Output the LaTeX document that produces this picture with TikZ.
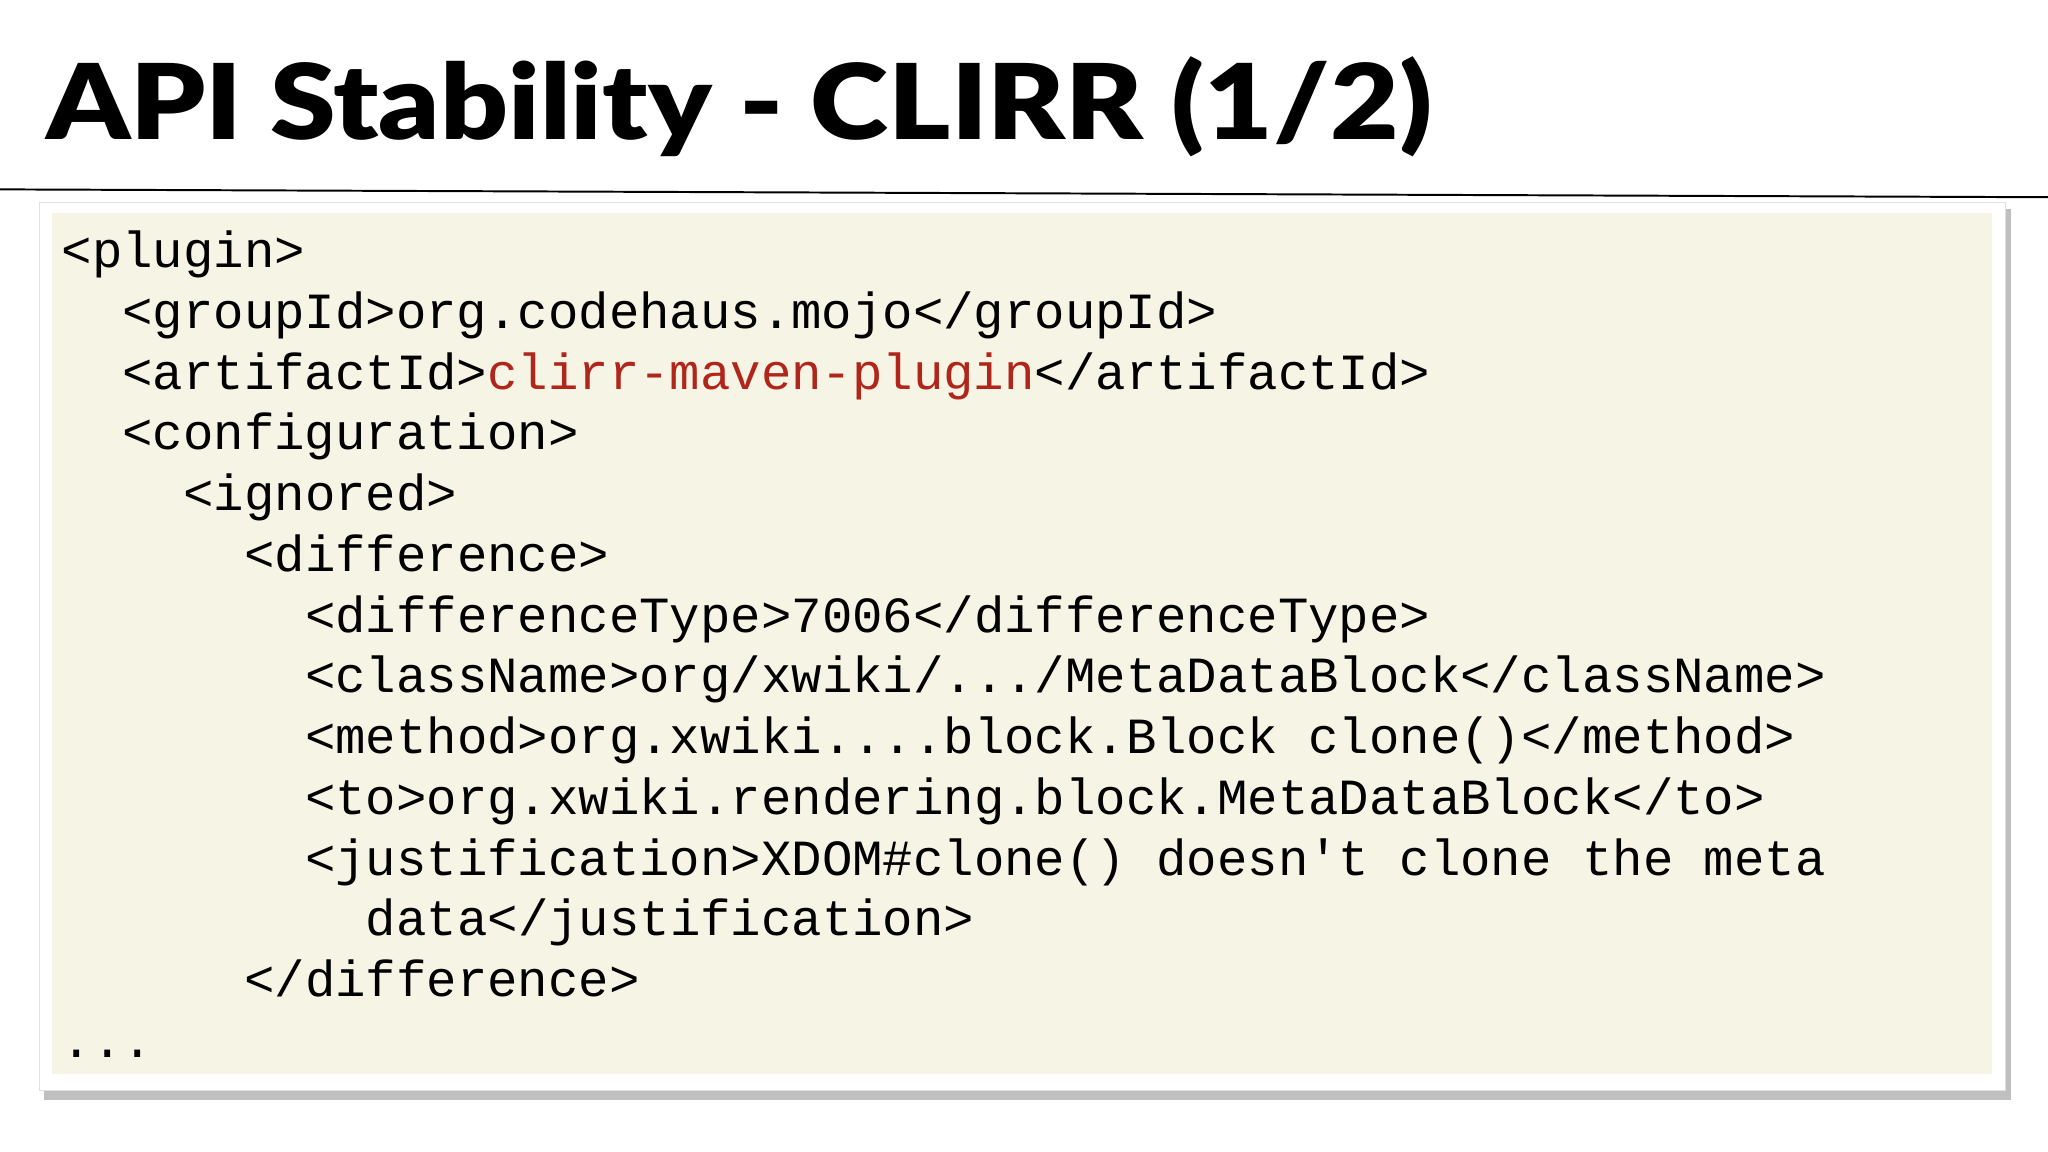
\documentclass[tikz,border=0pt]{standalone}
\usepackage{fontspec}
\setmainfont{Lato}
\newfontfamily\codefont{Liberation Mono}
\newfontfamily\titlefont{Lato Black}
\definecolor{codebg}{HTML}{F6F4E4}
\definecolor{codered}{HTML}{B0261A}
\tikzset{x=1pt,y=-1pt,
 codeline/.style={anchor=base west,inner sep=0pt,font=\codefont\fontsize{38.8}{40}\selectfont,text=black}}
\begin{document}
\begin{tikzpicture}
\useasboundingbox[fill=white] (0,0) rectangle (1568,882);
\node[anchor=base west,inner sep=0pt,xscale=1.135,font=\titlefont\fontsize{80}{80}\selectfont] (title) at (35,107) {API Stability - CLIRR (1/2)};
\draw[line width=1.5pt] (0,145) coordinate (l1) -- (1568,151) coordinate (l2);
\fill[black!25] (34,160) rectangle (1540,842);
\fill[white,draw=black!12] (30,155) rectangle (1535,835);
\fill[codebg] (40,163) rectangle (1525,822);
\def\cw{23.3}
\def\lh{46.5}
\node[codeline] (a) at (47,205) {<plugin>};
\node[codeline] (b) at (47+2*\cw,205+\lh) {<groupId>org.codehaus.mojo</groupId>};
\node[codeline] (c) at (47+2*\cw,205+2*\lh) {<artifactId>\textcolor{codered}{clirr-maven-plugin}</artifactId>};
\node[codeline] (d) at (47+2*\cw,205+3*\lh) {<configuration>};
\node[codeline] (e) at (47+4*\cw,205+4*\lh) {<ignored>};
\node[codeline] (f) at (47+6*\cw,205+5*\lh) {<difference>};
\node[codeline] (g) at (47+8*\cw,205+6*\lh) {<differenceType>7006</differenceType>};
\node[codeline] (h) at (47+8*\cw,205+7*\lh) {<className>org/xwiki/.../MetaDataBlock</className>};
\node[codeline] (i) at (47+8*\cw,205+8*\lh) {<method>org.xwiki....block.Block clone()</method>};
\node[codeline] (j) at (47+8*\cw,205+9*\lh) {<to>org.xwiki.rendering.block.MetaDataBlock</to>};
\node[codeline] (k) at (47+8*\cw,205+10*\lh) {<justification>XDOM\#clone() doesn't clone the meta};
\node[codeline] (m) at (47+10*\cw,205+11*\lh) {data</justification>};
\node[codeline] (n) at (47+6*\cw,205+12*\lh) {</difference>};
\node[codeline] (o) at (47,205+13*\lh) {...};
\end{tikzpicture}
\end{document}
